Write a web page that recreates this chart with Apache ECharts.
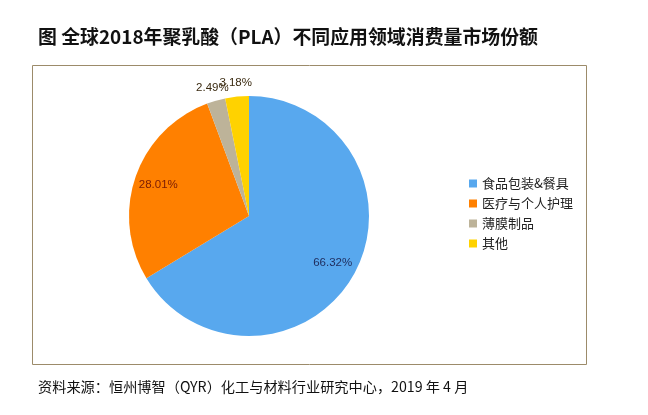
<!DOCTYPE html>
<html>
<head>
<meta charset="utf-8">
<script src="https://cdn.jsdelivr.net/npm/echarts@6/dist/echarts.min.js"></script>
<style>
html,body{margin:0;padding:0;background:#fff;}
#main{width:648px;height:415px;}
</style>
</head>
<body>
<div id="main"></div>
<script>
const categories = ['食品包装&餐具', '医疗与个人护理', '薄膜制品', '其他'];
const shares = [66.32, 28.01, 2.49, 3.18];
const titleText = '图 全球2018年聚乳酸（PLA）不同应用领域消费量市场份额';
const sourceText = '资料来源：恒州博智（QYR）化工与材料行业研究中心，2019 年 4 月';

const sliceColors = ['#58A8EE', '#FF8000', '#BDB399', '#FFD200'];
const labelColors = ['#1F2C5C', '#7A1C05', '#3A2A10', '#3A2A10'];
const innerLabeled = [true, true, false, false];

const chart = echarts.init(document.getElementById('main'), null, {renderer: 'canvas'});
const CX = 249, CY = 216, R = 120;

const mainData = categories.map((n, i) => ({name: n, value: shares[i], itemStyle: {color: sliceColors[i]}}));
const innerData = categories.map((n, i) => ({
  name: n, value: shares[i],
  label: {show: innerLabeled[i], color: labelColors[i]}
}));
const outerData = categories.map((n, i) => ({
  name: n, value: shares[i],
  label: {show: !innerLabeled[i], color: labelColors[i]}
}));

const labelBase = {
  position: 'inside',
  formatter: p => p.value.toFixed(2) + '%',
  fontFamily: 'Liberation Sans, Arial, sans-serif',
  fontSize: 11.5
};

chart.setOption({
  animation: false,
  title: [{
    text: titleText,
    left: 33, top: 22,
    textStyle: {fontFamily: 'Noto Sans CJK SC', fontWeight: 'bold', fontSize: 18.9, color: '#111'}
  }, {
    text: sourceText,
    left: 33, top: 375,
    textStyle: {fontFamily: 'Noto Sans CJK SC', fontWeight: 'normal', fontSize: 14.2, color: '#111'}
  }],
  graphic: [{
    type: 'rect', shape: {x: 32.5, y: 65.5, width: 554, height: 299},
    style: {fill: 'none', stroke: '#9C8B6A', lineWidth: 1}, z: -1
  }],
  legend: {
    orient: 'vertical',
    left: 464, top: 172,
    itemWidth: 8, itemHeight: 8, itemGap: 7,
    icon: 'rect',
    textStyle: {fontFamily: 'Noto Sans CJK SC', fontSize: 13, color: '#222', lineHeight: 13},
    data: categories.map((n, i) => ({name: n, itemStyle: {color: sliceColors[i]}}))
  },
  series: [{
    type: 'pie',
    center: [CX, CY], radius: [0, R],
    startAngle: 90, clockwise: true,
    label: {show: false}, labelLine: {show: false},
    silent: true,
    data: mainData
  }, {
    type: 'pie',
    center: [CX, CY], radius: [66, R],
    startAngle: 90, clockwise: true,
    avoidLabelOverlap: false,
    labelLayout: {hideOverlap: false},
    itemStyle: {color: 'rgba(0,0,0,0)'},
    label: labelBase, labelLine: {show: false},
    silent: true, legendHoverLink: false,
    data: innerData
  }, {
    type: 'pie',
    center: [CX, CY], radius: [R, 141],
    startAngle: 90, clockwise: true,
    avoidLabelOverlap: false,
    labelLayout: {hideOverlap: false},
    itemStyle: {color: 'rgba(0,0,0,0)'},
    label: labelBase, labelLine: {show: false},
    silent: true, legendHoverLink: false,
    data: outerData
  }]
});
</script>
</body>
</html>
